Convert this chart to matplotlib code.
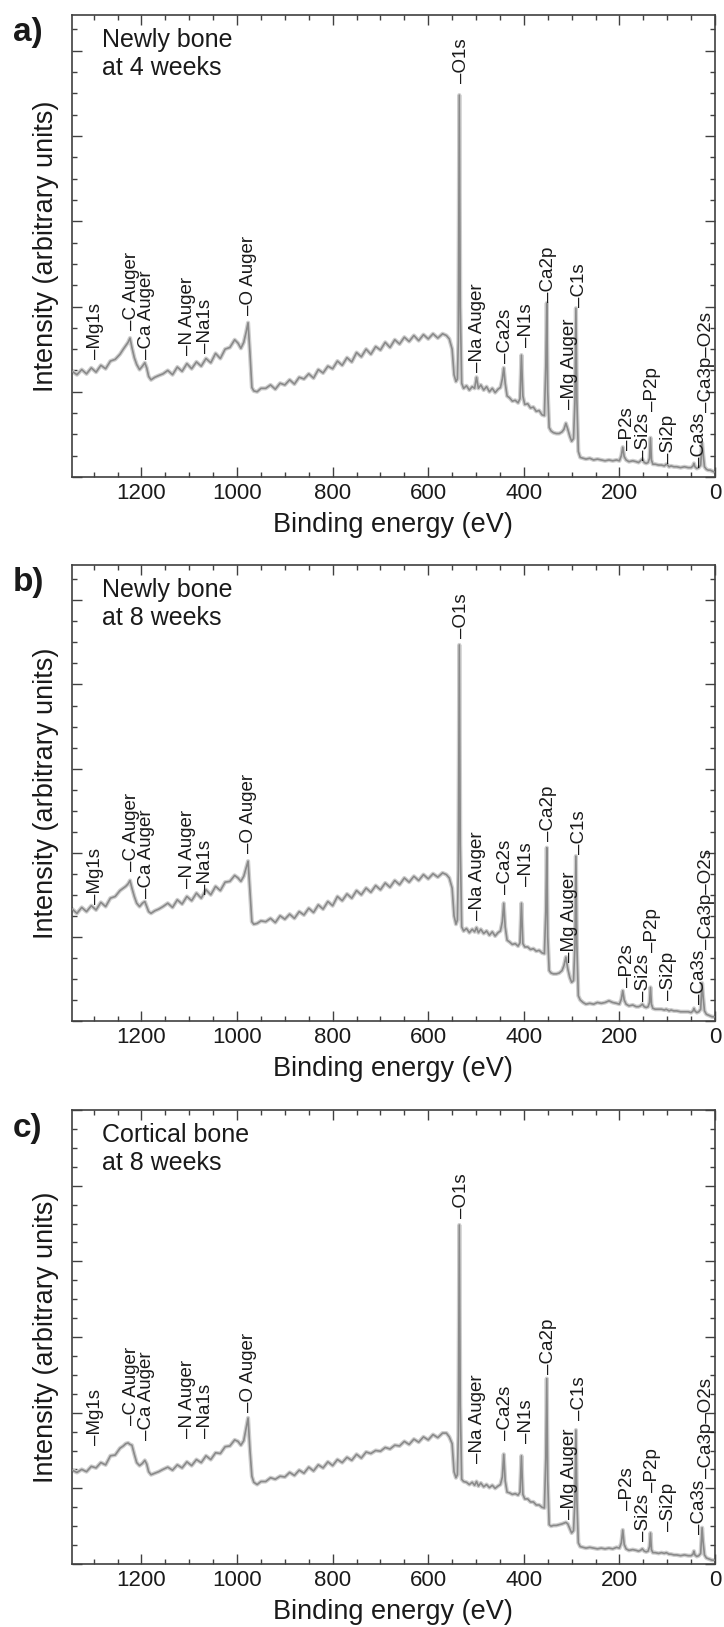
import matplotlib
matplotlib.use("Agg")
import matplotlib.pyplot as plt
from matplotlib.ticker import MultipleLocator

plt.rcParams['font.family'] = ['Liberation Sans', 'DejaVu Sans']

# Binding energy grid (eV), shared by the three survey spectra
energy = [
    1345, 1335, 1325, 1315, 1305, 1295, 1285, 1275, 1265, 1255, 1245,
    1238, 1233, 1228, 1224, 1220, 1215, 1210, 1204, 1198, 1193, 1189, 1185, 1180, 1172, 1164,
    1155, 1145, 1135, 1125, 1115, 1105, 1095, 1085, 1075, 1065, 1055, 1045, 1035, 1025, 1015, 1005,
    998, 992, 986, 981, 977, 973, 969, 965, 958, 950,
    940, 930, 920, 910, 900, 890, 880, 870, 860, 850, 840, 830, 820, 810, 800, 790, 780, 770, 760,
    750, 740, 730, 720, 710, 700, 690, 680, 670, 660, 650, 640, 630, 620, 610, 600, 590, 580, 570,
    562, 556, 550, 546, 542, 539, 537, 535, 533, 530, 526, 520, 514, 508, 503, 499, 495, 490, 484,
    478, 472, 466, 460, 454, 449,
    445, 442, 439, 435, 430, 424, 418, 412, 408, 405, 402, 398, 392, 386, 380, 374, 368, 362, 357,
    354, 352, 350, 347, 343, 338, 332, 326, 320, 316, 312, 308, 304, 300, 296, 293, 291, 289, 286, 282,
    276, 270, 262, 254, 246, 238, 230, 222, 214, 206, 200, 196, 193, 190, 186, 180, 172, 165, 160,
    156, 152, 148, 144, 140, 137, 135, 133, 130, 125, 118,
    112, 106, 102, 99, 96, 92, 86, 80, 72, 64, 56, 50, 46, 44, 42, 38, 34, 30, 27, 25, 22, 18, 14,
    10, 6, 2,
]

# Intensity (arbitrary units)
newly_4wk = [
    1.24, 1.20, 1.26, 1.21, 1.28, 1.23, 1.31, 1.27, 1.36, 1.38, 1.44,
    1.50, 1.54, 1.58, 1.63, 1.52, 1.40, 1.32, 1.26, 1.30, 1.34, 1.28, 1.18, 1.14, 1.17, 1.19,
    1.21, 1.25, 1.20, 1.29, 1.24, 1.33, 1.27, 1.35, 1.30, 1.39, 1.34, 1.45, 1.39, 1.50, 1.52, 1.61,
    1.57, 1.51, 1.58, 1.70, 1.81, 1.45, 1.05, 1.01, 1.00, 1.04,
    1.04, 1.08, 1.03, 1.10, 1.08, 1.14, 1.09, 1.17, 1.15, 1.21, 1.16, 1.26, 1.22, 1.30, 1.27, 1.36, 1.31, 1.40, 1.35,
    1.46, 1.41, 1.50, 1.44, 1.53, 1.49, 1.58, 1.52, 1.61, 1.56, 1.64, 1.59, 1.66, 1.60, 1.67, 1.62, 1.68, 1.63, 1.68,
    1.66, 1.62, 1.50, 1.20, 1.12, 1.15, 1.60, 4.48, 2.00, 1.10, 1.04, 1.07, 1.02, 1.06, 1.04, 1.17, 1.04, 1.08, 1.02,
    1.06, 1.00, 1.04, 0.99, 1.03, 1.05,
    1.15, 1.28, 1.10, 0.95, 0.93, 0.89, 0.90, 0.87, 0.92, 1.43, 0.95, 0.85, 0.86, 0.81, 0.82, 0.77, 0.78, 0.73, 0.72,
    1.30, 2.04, 1.00, 0.58, 0.54, 0.52, 0.51, 0.51, 0.53, 0.56, 0.63, 0.56, 0.48, 0.42, 0.45, 0.90, 1.98, 0.90, 0.30, 0.23,
    0.22, 0.21, 0.22, 0.20, 0.21, 0.20, 0.19, 0.20, 0.19, 0.20, 0.19, 0.25, 0.35, 0.24, 0.20, 0.18, 0.19, 0.18, 0.17,
    0.19, 0.21, 0.17, 0.16, 0.17, 0.22, 0.46, 0.20, 0.15, 0.15, 0.14,
    0.14, 0.13, 0.15, 0.14, 0.12, 0.13, 0.12, 0.12, 0.11, 0.12, 0.11, 0.11, 0.13, 0.16, 0.12, 0.10, 0.11, 0.14, 0.40,
    0.28, 0.12, 0.09, 0.08, 0.08, 0.07, 0.06,
]

newly_8wk = [
    1.33, 1.28, 1.35, 1.30, 1.37, 1.32, 1.41, 1.36, 1.46, 1.48, 1.55,
    1.58, 1.60, 1.63, 1.67, 1.58, 1.48, 1.40, 1.36, 1.40, 1.42, 1.36, 1.30, 1.28, 1.31, 1.33,
    1.36, 1.40, 1.35, 1.44, 1.39, 1.48, 1.43, 1.52, 1.46, 1.56, 1.50, 1.60, 1.55, 1.65, 1.66, 1.73,
    1.70, 1.66, 1.72, 1.82, 1.90, 1.55, 1.18, 1.15, 1.16, 1.19,
    1.18, 1.22, 1.17, 1.25, 1.21, 1.27, 1.22, 1.30, 1.26, 1.34, 1.29, 1.38, 1.33, 1.42, 1.37, 1.48, 1.43, 1.51, 1.46,
    1.55, 1.50, 1.58, 1.53, 1.61, 1.56, 1.64, 1.59, 1.67, 1.62, 1.70, 1.65, 1.72, 1.67, 1.74, 1.69, 1.75, 1.71, 1.76,
    1.74, 1.70, 1.58, 1.25, 1.15, 1.20, 1.80, 4.47, 2.10, 1.12, 1.07, 1.10, 1.05, 1.09, 1.06, 1.11, 1.05, 1.09, 1.04,
    1.07, 1.02, 1.06, 1.01, 1.05, 1.07,
    1.18, 1.40, 1.12, 0.96, 0.94, 0.91, 0.92, 0.89, 0.93, 1.40, 0.92, 0.88, 0.88, 0.85, 0.86, 0.83, 0.84, 0.81, 0.80,
    1.30, 2.06, 1.00, 0.60, 0.57, 0.56, 0.56, 0.57, 0.60, 0.66, 0.76, 0.62, 0.52, 0.46, 0.48, 0.90, 1.96, 0.90, 0.30, 0.25,
    0.22, 0.20, 0.21, 0.20, 0.22, 0.21, 0.22, 0.24, 0.22, 0.21, 0.20, 0.26, 0.36, 0.25, 0.20, 0.18, 0.19, 0.17, 0.17,
    0.18, 0.20, 0.17, 0.16, 0.17, 0.22, 0.40, 0.20, 0.15, 0.14, 0.14,
    0.14, 0.13, 0.14, 0.13, 0.12, 0.13, 0.12, 0.12, 0.11, 0.11, 0.11, 0.10, 0.12, 0.15, 0.12, 0.10, 0.11, 0.14, 0.45,
    0.30, 0.12, 0.08, 0.07, 0.06, 0.05, 0.05,
]

cortical_8wk = [
    1.24, 1.21, 1.25, 1.22, 1.29, 1.27, 1.34, 1.31, 1.43, 1.44, 1.53,
    1.56, 1.59, 1.60, 1.58, 1.57, 1.45, 1.34, 1.30, 1.33, 1.37, 1.32, 1.22, 1.18, 1.20, 1.22,
    1.25, 1.28, 1.24, 1.31, 1.27, 1.35, 1.30, 1.38, 1.34, 1.43, 1.38, 1.47, 1.46, 1.55, 1.56, 1.64,
    1.62, 1.57, 1.63, 1.80, 1.93, 1.50, 1.16, 1.08, 1.05, 1.09,
    1.09, 1.14, 1.12, 1.16, 1.15, 1.21, 1.17, 1.24, 1.20, 1.28, 1.23, 1.31, 1.27, 1.35, 1.30, 1.38, 1.34, 1.41, 1.37,
    1.45, 1.40, 1.48, 1.46, 1.50, 1.49, 1.54, 1.52, 1.57, 1.56, 1.62, 1.58, 1.65, 1.61, 1.68, 1.64, 1.71, 1.67, 1.73,
    1.73, 1.68, 1.59, 1.22, 1.14, 1.18, 1.70, 4.48, 2.10, 1.12, 1.09, 1.08, 1.05, 1.08, 1.04, 1.09, 1.03, 1.07, 1.02,
    1.05, 1.01, 1.04, 1.00, 1.03, 1.05,
    1.15, 1.45, 1.10, 0.95, 0.94, 0.92, 0.93, 0.91, 0.95, 1.43, 0.92, 0.86, 0.86, 0.82, 0.82, 0.78, 0.78, 0.75, 0.74,
    1.40, 2.45, 1.10, 0.52, 0.50, 0.51, 0.51, 0.52, 0.53, 0.54, 0.55, 0.53, 0.47, 0.41, 0.44, 0.85, 1.77, 0.85, 0.28, 0.23,
    0.22, 0.21, 0.22, 0.21, 0.20, 0.21, 0.20, 0.21, 0.20, 0.22, 0.21, 0.28, 0.45, 0.26, 0.20, 0.18, 0.19, 0.18, 0.17,
    0.18, 0.20, 0.17, 0.16, 0.17, 0.23, 0.41, 0.19, 0.15, 0.15, 0.14,
    0.15, 0.14, 0.15, 0.14, 0.13, 0.13, 0.12, 0.12, 0.11, 0.12, 0.11, 0.11, 0.13, 0.17, 0.12, 0.10, 0.11, 0.14, 0.48,
    0.30, 0.12, 0.08, 0.07, 0.06, 0.05, 0.05,
]

# Peak assignments and where each tag sits (eV, intensity of the tag's foot)
peak_names = ["–Mg1s", "–C Auger", "–Ca Auger", "–N Auger", "–Na1s", "–O Auger", "–O1s",
              "–Na Auger", "–Ca2s", "–N1s", "–Ca2p", "–Mg Auger", "–C1s", "–P2s", "–Si2s",
              "–P2p", "–Si2p", "–Ca3s", "–Ca3p–O2s"]
peak_energy = [1296, 1220, 1189, 1103, 1066, 977, 531,
               496, 439, 394, 348, 304, 284, 184, 150,
               130, 98, 33, 17]
tag_4wk = [1.38, 1.72, 1.39, 1.43, 1.45, 1.90, 4.62,
           1.23, 1.34, 1.52, 2.05, 0.80, 2.00, 0.32, 0.20,
           0.78, 0.16, 0.12, 0.76]
tag_8wk = [1.39, 1.78, 1.46, 1.58, 1.51, 2.00, 4.55,
           1.20, 1.51, 1.60, 2.14, 0.70, 1.99, 0.40, 0.24,
           0.82, 0.25, 0.20, 0.85]
tag_cort = [1.57, 1.84, 1.64, 1.67, 1.67, 2.01, 4.57,
            1.33, 1.64, 1.60, 2.51, 0.60, 1.90, 0.71, 0.30,
            0.95, 0.44, 0.40, 1.13]

panel_letters = ["a)", "b)", "c)"]
panel_titles = ["Newly bone\nat 4 weeks", "Newly bone\nat 8 weeks", "Cortical bone\nat 8 weeks"]
spectra = [newly_4wk, newly_8wk, cortical_8wk]
tags = [tag_4wk, tag_8wk, tag_cort]
y_tops = [5.42, 5.42, 6.0]

W, H = 724, 1627
fig = plt.figure(figsize=(W / 100, H / 100), dpi=100)
left_px, right_px = 71.7, 715
boxes = [(15, 477), (565, 1021), (1110, 1564)]

line_col = "#8a8a8a"
ink = "#1a1a1a"

for i, (top_px, bot_px) in enumerate(boxes):
    h_px = bot_px - top_px
    w_px = right_px - left_px
    ax = fig.add_axes([left_px / W, 1 - bot_px / H, w_px / W, h_px / H])

    ax.plot(energy, spectra[i], color="#cfcfcf", lw=3.0, solid_joinstyle="round", zorder=2)
    ax.plot(energy, spectra[i], color=line_col, lw=1.2, solid_joinstyle="round", zorder=3)

    ax.set_xlim(1346, 0)
    ax.set_ylim(0, y_tops[i])
    ax.xaxis.set_major_locator(MultipleLocator(200))
    ax.xaxis.set_minor_locator(MultipleLocator(50))
    ax.yaxis.set_major_locator(MultipleLocator(1))
    ax.yaxis.set_minor_locator(MultipleLocator(0.25))
    ax.tick_params(which="both", direction="in", top=True, right=True,
                   labelleft=False, color="#404040", width=1.0)
    ax.tick_params(which="major", length=7)
    ax.tick_params(which="minor", length=3.5)
    ax.tick_params(axis="x", which="major", labelsize=16, pad=4.5, labelcolor=ink)
    for sp in ax.spines.values():
        sp.set_color("#404040")
        sp.set_linewidth(1.2)

    ax.text(0.5, -48 / h_px, "Binding energy (eV)", transform=ax.transAxes,
            ha="center", va="center", fontsize=19.5, color=ink)
    ax.text(-(left_px - 46) / w_px, 0.5, "Intensity (arbitrary units)", transform=ax.transAxes,
            ha="center", va="center", rotation=90, fontsize=19.5, color=ink)
    ax.text((102 - left_px) / w_px, 1 - 13 / h_px, panel_titles[i], transform=ax.transAxes,
            ha="left", va="top", fontsize=18, linespacing=1.2, color=ink)
    fig.text(28 / W, 1 - (top_px + 18) / H, panel_letters[i], ha="center", va="center",
             fontsize=24, fontweight="bold", color=ink)

    for name, e, yb in zip(peak_names, peak_energy, tags[i]):
        ax.text(e, yb, name, rotation=90, ha="center", va="bottom",
                fontsize=13.5, color=ink, zorder=4)

fig.savefig("out.png", dpi=100)
